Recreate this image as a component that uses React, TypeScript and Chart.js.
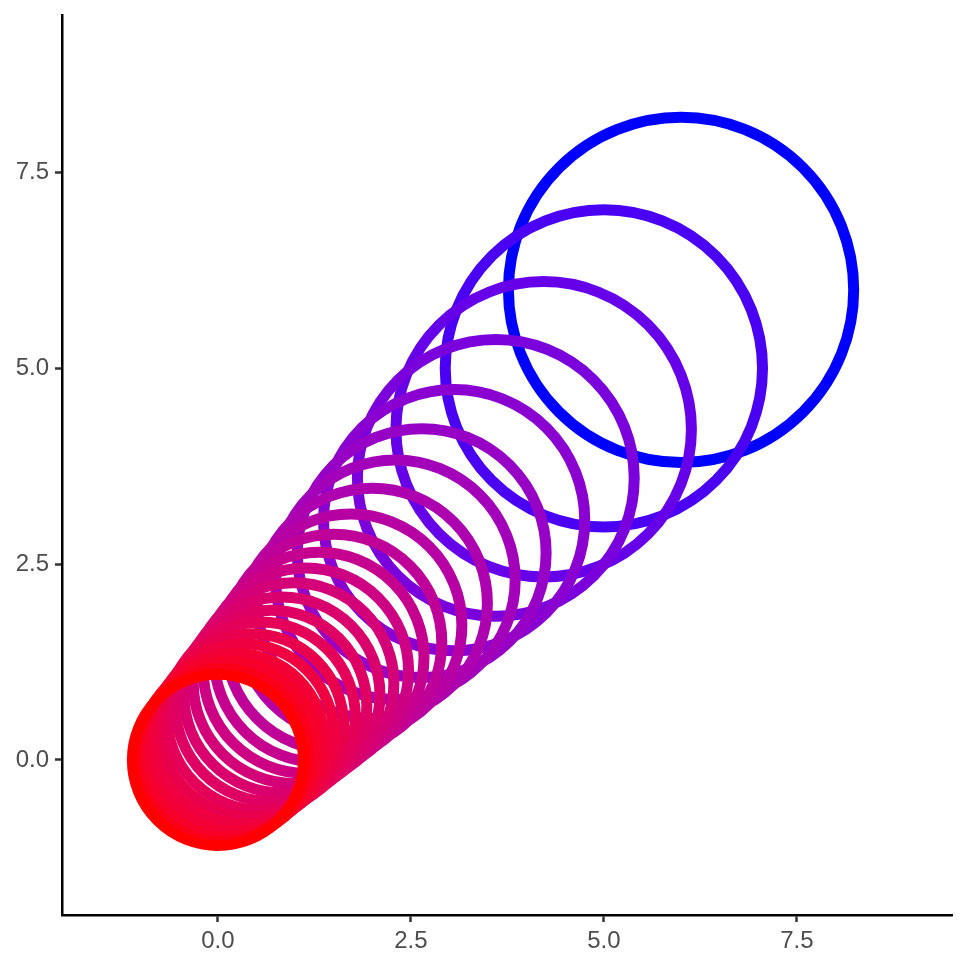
import React, { useEffect, useRef } from "react";
import { Chart, registerables } from "chart.js";

Chart.register(...registerables);

// Circle centres (x and y, data units), from the largest blue circle to the last red one
const centerX = [6.0, 5.0, 4.22, 3.6, 3.06, 2.64, 2.3, 2.0, 1.72, 1.5, 1.31, 1.14, 0.98, 0.83, 0.69, 0.56, 0.44, 0.33, 0.23, 0.14, 0.06, 0.0];
const centerY = [6.0, 5.0, 4.22, 3.6, 3.06, 2.64, 2.3, 2.0, 1.72, 1.5, 1.31, 1.14, 0.98, 0.83, 0.69, 0.56, 0.44, 0.33, 0.23, 0.14, 0.06, 0.0];
// Circle radii in data units
const radii = [2.22, 2.04, 1.9, 1.78, 1.68, 1.6, 1.54, 1.48, 1.43, 1.39, 1.35, 1.32, 1.29, 1.26, 1.23, 1.21, 1.18, 1.16, 1.14, 1.13, 1.11, 1.1];

const xTicks = [0, 2.5, 5, 7.5];
const yTicks = [0, 2.5, 5, 7.5];
const xMin = -2.02;
const xMax = 9.51;
const yMin = -1.98;
const yMax = 9.51;

const highColor = "#0000FF";
const lowColor = "#FF0000";

// --- colour scale helpers (CIELAB interpolation, like ggplot's gradient) ---
function hexToRgb(h: string) {
  return [1, 3, 5].map((i) => parseInt(h.slice(i, i + 2), 16) / 255);
}
function toLin(c: number) {
  return c <= 0.04045 ? c / 12.92 : Math.pow((c + 0.055) / 1.055, 2.4);
}
function fromLin(c: number) {
  const v = c <= 0.0031308 ? 12.92 * c : 1.055 * Math.pow(c, 1 / 2.4) - 0.055;
  return Math.round(Math.min(1, Math.max(0, v)) * 255);
}
const WX = 0.95047, WY = 1.0, WZ = 1.08883;
function rgbToLab(hex: string) {
  const [r, g, b] = hexToRgb(hex).map(toLin);
  const X = (0.4124 * r + 0.3576 * g + 0.1805 * b) / WX;
  const Y = (0.2126 * r + 0.7152 * g + 0.0722 * b) / WY;
  const Z = (0.0193 * r + 0.1192 * g + 0.9505 * b) / WZ;
  const f = (t: number) => (t > 0.008856 ? Math.cbrt(t) : 7.787 * t + 16 / 116);
  const fx = f(X), fy = f(Y), fz = f(Z);
  return [116 * fy - 16, 500 * (fx - fy), 200 * (fy - fz)];
}
function labToRgb(L: number, a: number, bb: number) {
  const fy = (L + 16) / 116;
  const fx = fy + a / 500;
  const fz = fy - bb / 200;
  const inv = (t: number) => (t * t * t > 0.008856 ? t * t * t : (t - 16 / 116) / 7.787);
  const X = inv(fx) * WX, Y = inv(fy) * WY, Z = inv(fz) * WZ;
  const r = 3.2406 * X - 1.5372 * Y - 0.4986 * Z;
  const g = -0.9689 * X + 1.8758 * Y + 0.0415 * Z;
  const b = 0.0557 * X - 0.204 * Y + 1.057 * Z;
  return `rgb(${fromLin(r)},${fromLin(g)},${fromLin(b)})`;
}
function gradient(t: number) {
  const A = rgbToLab(highColor);
  const B = rgbToLab(lowColor);
  return labToRgb(A[0] + (B[0] - A[0]) * t, A[1] + (B[1] - A[1]) * t, A[2] + (B[2] - A[2]) * t);
}

export default function App() {
  const ref = useRef<HTMLCanvasElement | null>(null);

  useEffect(() => {
    if (!ref.current) return;
    const n = centerX.length;
    const points = centerX.map((x, i) => ({ x, y: centerY[i], rad: radii[i] }));
    const colors = centerX.map((_, i) => gradient(i / (n - 1)));

    const tickFont = { family: "'Liberation Sans', Arial, sans-serif", size: 24 };
    const axisCommon = (ticks: number[]) => ({
      type: "linear",
      afterBuildTicks: (s: any) => {
        s.ticks = ticks.map((v) => ({ value: v }));
      },
      border: { display: true, color: "#000000", width: 2.5 },
      grid: {
        display: true,
        drawOnChartArea: false,
        drawTicks: true,
        tickLength: 7,
        tickColor: "#333333",
        tickWidth: 2.5,
      },
    });

    const chart = new Chart(ref.current, {
      type: "scatter",
      data: {
        datasets: [
          {
            data: points,
            pointStyle: "circle",
            backgroundColor: "rgba(0,0,0,0)",
            borderColor: colors,
            borderWidth: 11,
            pointRadius: (ctx: any) => {
              const sx = ctx.chart.scales.x;
              const sy = ctx.chart.scales.y;
              if (!sx || !sy || !ctx.raw) return 0;
              const ppu =
                (Math.abs(sx.getPixelForValue(1) - sx.getPixelForValue(0)) +
                  Math.abs(sy.getPixelForValue(1) - sy.getPixelForValue(0))) /
                2;
              return ctx.raw.rad * ppu;
            },
            pointHoverRadius: 0,
            clip: false as any,
          } as any,
        ],
      },
      options: {
        animation: false,
        responsive: true,
        maintainAspectRatio: false,
        layout: { padding: { top: 7, right: 9, left: 0, bottom: 0 } },
        plugins: { legend: { display: false }, tooltip: { enabled: false } },
        events: [],
        scales: {
          x: {
            ...axisCommon(xTicks),
            min: xMin,
            max: xMax,
            afterFit: (s: any) => {
              s.height = 46;
              s.paddingLeft = 0;
              s.paddingRight = 0;
            },
            ticks: {
              color: "#4D4D4D",
              font: tickFont,
              padding: 5,
              maxRotation: 0,
              callback: (v: any) => Number(v).toFixed(1),
            },
          },
          y: {
            ...axisCommon(yTicks),
            min: yMin,
            max: yMax,
            afterFit: (s: any) => {
              s.width = 54;
              s.paddingTop = 0;
              s.paddingBottom = 0;
            },
            ticks: {
              color: "#4D4D4D",
              font: tickFont,
              padding: 6,
              callback: (v: any) => Number(v).toFixed(1),
            },
          },
        },
      } as any,
    });
    return () => chart.destroy();
  }, []);

  return (
    <div style={{ width: 953, height: 953, position: "relative" }}>
      <canvas ref={ref} />
    </div>
  );
}
